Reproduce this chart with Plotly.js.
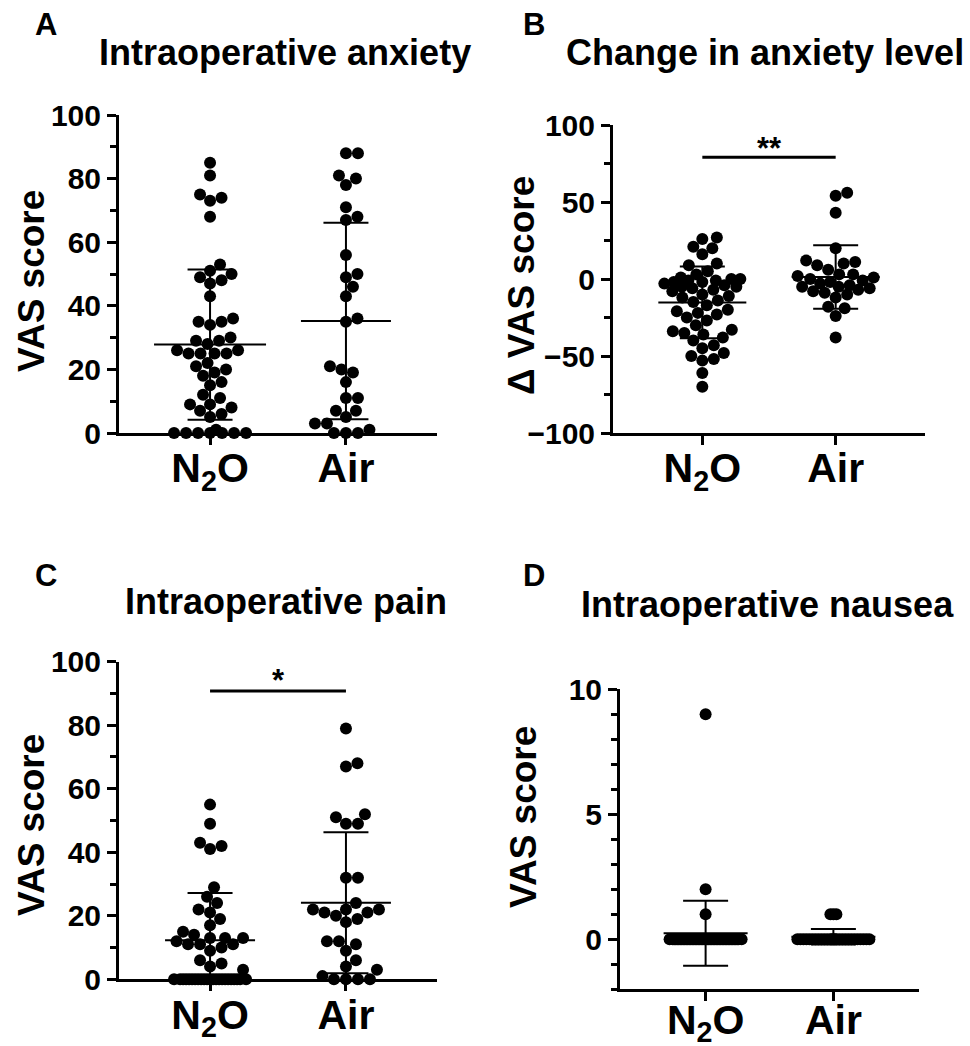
<!DOCTYPE html>
<html><head><meta charset="utf-8">
<script src="https://cdn.plot.ly/plotly-3.0.1.min.js"></script>
<style>html,body{margin:0;padding:0;background:#fff}#chart{width:970px;height:1046px}</style>
</head><body><div id="chart"></div>
<script>
// ---------------- data ----------------
const groupLabels = ['N<sub>2</sub>O', 'Air'];

// A: Intraoperative anxiety (VAS)
const anxietyN2O = [85, 81, 74, 73, 75, 68, 53, 51, 50, 49, 47, 48, 43, 35, 35, 34, 36, 30, 29, 29,
  28, 25, 26, 25, 25, 25, 26, 22, 20, 19, 21, 18, 16, 15, 12, 11, 9, 8, 9, 7, 6, 5, 0, 1, 0, 0, 0, 0, 0, 0];
const anxietyAir = [88, 88, 78, 80, 81, 71, 68, 67, 56, 50, 49, 46, 43, 36, 35, 20, 21, 19, 16, 11,
  11, 7, 7, 5, 3, 3, 0, 0, 0, 1];
const anxietyMean = [27.8, 35.2];
const anxietySD = [23.6, 30.9];

// B: Change in anxiety level (delta VAS)
const changeN2O = [27, 26, 21, 20, 16, 10, 9, 5, 3, 1, 0, 0, -1, -1, -2, -2, -3, -4, -5, -5,
  -6, -7, -8, -10, -11, -12, -14, -15, -17, -20, -21, -22, -23, -25, -27, -30, -33, -34, -35, -36,
  -38, -40, -43, -45, -48, -50, -52, -53, -61, -70];
const changeAir = [56, 54, 43, 20, 12, 11, 10, 9, 6, 3, 3, 2, 1, 0, -1, -2, -3, -4, -5, -5,
  -6, -7, -8, -9, -10, -12, -18, -19, -24, -38];
const changeMean = [-15.2, 1.3];
const changeSD = [23.3, 20.6];

// C: Intraoperative pain (VAS)
const painN2O = [55, 49, 43, 42, 41, 29, 26, 24, 22, 21, 19, 17, 15, 14, 13, 13, 13, 12, 11, 11,
  11, 10, 9, 6, 5, 4, 3, 0, 0, 0, 0, 0, 0, 0, 0, 0, 0, 0, 0, 0, 0, 0, 0, 0, 0, 0, 0, 0, 0, 0];
const painAir = [79, 68, 67, 52, 49, 49, 51, 32, 32, 24, 22, 22, 22, 21, 21, 20, 19, 18, 12, 11,
  12, 9, 6, 4, 3, 1, 0, 0, 0, 0];
const painMean = [12.3, 24.1];
const painSD = [14.9, 22.2];

// D: Intraoperative nausea (VAS)
const nauseaN2O = [9, 2, 1, 0, 0, 0, 0, 0, 0, 0, 0, 0, 0, 0, 0, 0, 0, 0, 0, 0, 0, 0, 0, 0, 0,
  0, 0, 0, 0, 0, 0, 0, 0, 0, 0, 0, 0, 0, 0, 0, 0, 0, 0, 0, 0, 0, 0, 0, 0, 0];
const nauseaAir = [1, 1, 1, 0, 0, 0, 0, 0, 0, 0, 0, 0, 0, 0, 0, 0, 0, 0, 0, 0, 0, 0, 0, 0, 0,
  0, 0, 0, 0, 0];
const nauseaMean = [0.24, 0.1];
const nauseaSD = [1.3, 0.31];

const panelTitles = ['Intraoperative anxiety', 'Change in anxiety level', 'Intraoperative pain', 'Intraoperative nausea'];
const panelLetters = ['A', 'B', 'C', 'D'];
const yTitles = ['VAS score', '\u0394 VAS score', 'VAS score', 'VAS score'];
const sigLabels = ['', '**', '*', ''];

// ---------------- geometry / style ----------------
const W = 970, H = 1046;
const FONT = 'Liberation Sans, Arial, Helvetica, sans-serif';
const px = v => v / W, py = v => 1 - v / H;

const panels = [
  {n: '', x0: 119, x1: 437, yTop: 115, yBot: 433, yr: [0, 100], dtick: 20, minor: 10,
   data: [anxietyN2O, anxietyAir], mean: anxietyMean, sd: anxietySD,
   d: 11.6, half: 39, meanHalf: [56, 45], sigY: null, labOff: -12},
  {n: '2', x0: 613, x1: 925, yTop: 125, yBot: 433, yr: [-100, 100], dtick: 50, minor: 25,
   data: [changeN2O, changeAir], mean: changeMean, sd: changeSD,
   d: 11.6, half: 38, meanHalf: [44, 44], sigY: 79, starY: 85, labOff: -12},
  {n: '3', x0: 119, x1: 437, yTop: 661.7, yBot: 979.3, yr: [0, 100], dtick: 20, minor: 10,
   data: [painN2O, painAir], mean: painMean, sd: painSD,
   d: 11.6, half: 39, meanHalf: [45, 45], sigY: 90.8, starY: 94, labOff: -12},
  {n: '4', x0: 620, x1: 919, yTop: 689.3, yBot: 989.3, yr: [-2, 10], dtick: 5, minor: 1,
   data: [nauseaN2O, nauseaAir], mean: nauseaMean, sd: nauseaSD,
   d: 3, half: 36, meanHalf: [42, 42], sigY: null, labOff: -17}
];
const XR = [-0.67, 1.67];

// deterministic beeswarm (pixel space), returns x data positions
function swarm(values, center, pxPerX, pxPerY, d, half) {
  const order = values.map((v, i) => i).sort((a, b) => values[a] - values[b]);
  const cands = [0];
  for (let s = 0.5; s <= half + 1e-9; s += 0.5) { cands.push(s); cands.push(-s); }
  const placed = [];
  const xs = new Array(values.length);
  for (const i of order) {
    const y = values[i] * pxPerY;
    let best = 0, bestScore = -1;
    for (const c of cands) {
      let minD = Infinity;
      for (const p of placed) {
        const dd = Math.hypot(p.x - c, p.y - y);
        if (dd < minD) minD = dd;
      }
      if (minD >= d - 1e-6) { best = c; break; }
      if (minD > bestScore + 1e-6) { bestScore = minD; best = c; }
    }
    placed.push({x: best, y: y});
    xs[i] = center + best / pxPerX;
  }
  return xs;
}

const traces = [];
const layout = {
  width: W, height: H, margin: {l: 0, r: 0, t: 0, b: 0},
  paper_bgcolor: '#fff', plot_bgcolor: 'rgba(0,0,0,0)',
  showlegend: false, font: {family: FONT, color: '#000'},
  annotations: [], shapes: []
};

panels.forEach((p, k) => {
  const xa = 'x' + p.n, ya = 'y' + p.n;
  const pxPerX = (p.x1 - p.x0) / (XR[1] - XR[0]);
  const pxPerY = (p.yBot - p.yTop) / (p.yr[1] - p.yr[0]);

  // points
  p.data.forEach((vals, g) => {
    traces.push({
      type: 'scatter', mode: 'markers', xaxis: xa, yaxis: ya, cliponaxis: false,
      x: swarm(vals, g, pxPerX, pxPerY, p.d, p.half), y: vals,
      marker: {size: 12, color: '#000', line: {width: 0}}, hoverinfo: 'skip'
    });
  });
  // mean lines
  p.mean.forEach((m, g) => {
    const hw = p.meanHalf[g] / pxPerX;
    traces.push({
      type: 'scatter', mode: 'lines', xaxis: xa, yaxis: ya, cliponaxis: false,
      x: [g - hw, g + hw], y: [m, m], line: {color: '#000', width: 2}, hoverinfo: 'skip'
    });
  });
  // SD error bars
  traces.push({
    type: 'scatter', mode: 'markers', xaxis: xa, yaxis: ya, cliponaxis: false,
    x: [0, 1], y: p.mean, marker: {size: 1, color: 'rgba(0,0,0,0)'},
    error_y: {type: 'data', array: p.sd, visible: true, color: '#000', thickness: 2, width: 22.5},
    hoverinfo: 'skip'
  });
  // significance bar
  if (p.sigY !== null) {
    traces.push({
      type: 'scatter', mode: 'lines', xaxis: xa, yaxis: ya, cliponaxis: false,
      x: [0, 1], y: [p.sigY, p.sigY], line: {color: '#000', width: 3}, hoverinfo: 'skip'
    });
    layout.annotations.push({
      xref: xa, yref: ya, x: 0.5, y: p.starY, text: sigLabels[k], showarrow: false,
      font: {family: FONT, size: 31, weight: 700, color: '#000'}, xanchor: 'center', yanchor: 'middle'
    });
  }

  const xKey = 'xaxis' + p.n, yKey = 'yaxis' + p.n;
  layout[xKey] = {
    domain: [px(p.x0), px(p.x1)], anchor: ya, range: XR, fixedrange: true,
    showline: true, linewidth: 3, linecolor: '#000', showgrid: false, zeroline: false,
    tickmode: 'array', tickvals: [0, 1], ticktext: groupLabels,
    ticks: 'outside', ticklen: 9, tickwidth: 3, tickcolor: '#000', ticklabelstandoff: p.labOff,
    tickfont: {family: FONT, size: 41, weight: 700, color: '#000'}
  };
  layout[yKey] = {
    domain: [py(p.yBot), py(p.yTop)], anchor: xa, range: p.yr, fixedrange: true,
    showline: true, linewidth: 3, linecolor: '#000', showgrid: false, zeroline: false,
    tickmode: 'linear', tick0: 0, dtick: p.dtick,
    ticks: 'outside', ticklen: 9, tickwidth: 3, tickcolor: '#000',
    minor: {ticks: 'outside', dtick: p.minor, tick0: 0, ticklen: 6, tickwidth: 3, tickcolor: '#000', showgrid: false},
    tickfont: {family: FONT, size: 30, weight: 700, color: '#000'}
  };
});

// panel titles, letters, y-axis titles
const titlePos = [[285, 53], [765, 53], [286, 601], [767, 604]];
const letterPos = [[45.5, 24.5], [534, 24.5], [45.5, 575], [534, 575]];
const yTitlePos = [[31, 281], [521, 286], [31, 825], [523, 817]];
for (let k = 0; k < 4; k++) {
  layout.annotations.push({
    xref: 'paper', yref: 'paper', x: px(titlePos[k][0]), y: py(titlePos[k][1]),
    text: panelTitles[k], showarrow: false, xanchor: 'center', yanchor: 'middle',
    font: {family: FONT, size: 36, weight: 700, color: '#000'}
  });
  layout.annotations.push({
    xref: 'paper', yref: 'paper', x: px(letterPos[k][0]), y: py(letterPos[k][1]),
    text: panelLetters[k], showarrow: false, xanchor: 'center', yanchor: 'middle',
    font: {family: FONT, size: 31, weight: 700, color: '#000'}
  });
  layout.annotations.push({
    xref: 'paper', yref: 'paper', x: px(yTitlePos[k][0]), y: py(yTitlePos[k][1]),
    text: yTitles[k], showarrow: false, xanchor: 'center', yanchor: 'middle', textangle: -90,
    font: {family: FONT, size: 37, weight: 700, color: '#000'}
  });
}

Plotly.newPlot('chart', traces, layout, {staticPlot: true, displayModeBar: false});
</script>
</body></html>
